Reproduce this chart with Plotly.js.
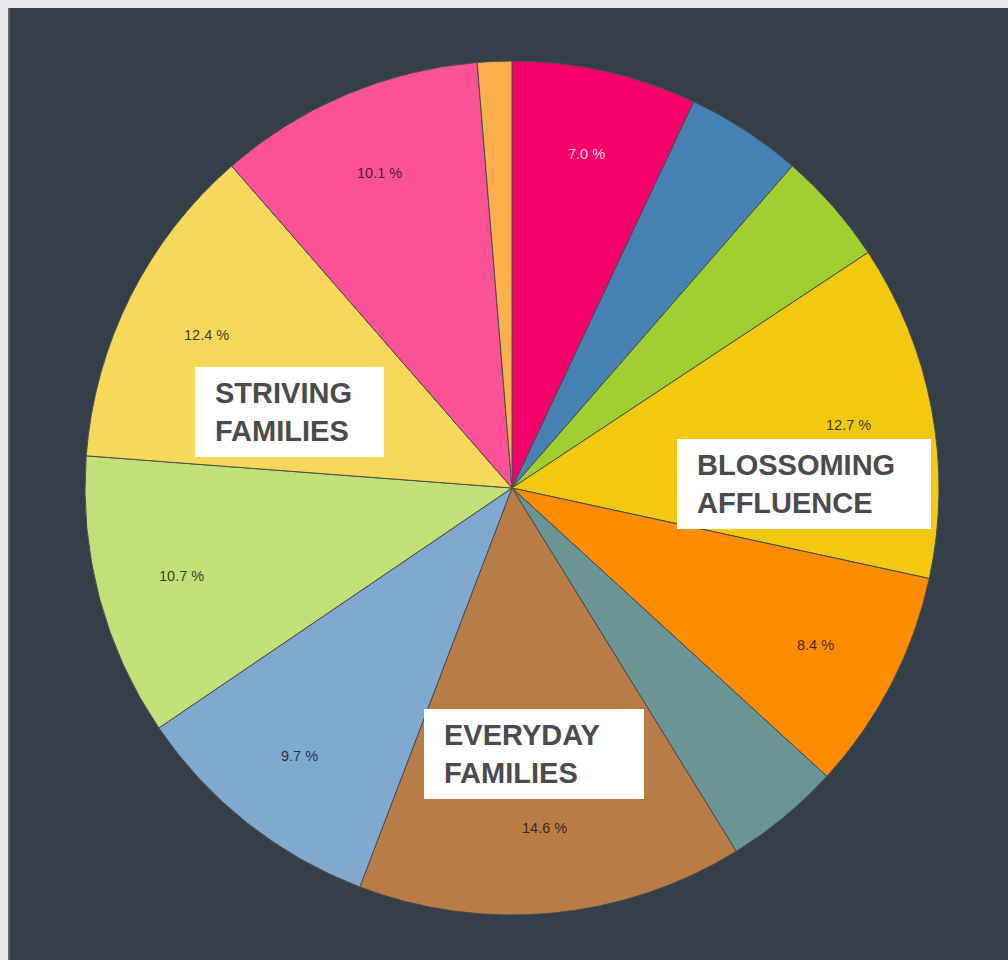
<!DOCTYPE html>
<html>
<head>
<meta charset="utf-8">
<script src="https://cdn.plot.ly/plotly-3.0.1.min.js"></script>
<style>
  html, body { margin: 0; padding: 0; background: #e9e9e9; width: 1008px; height: 960px; overflow: hidden; }
  #chart { position: absolute; left: 8px; top: 8px; width: 1000px; height: 952px; }
  #edge { position: absolute; left: 8px; top: 8px; width: 2px; height: 952px; background: #5a646e; z-index: 5; }
</style>
</head>
<body>
<div id="chart"></div>
<div id="edge"></div>
<script>
// ---- data (clockwise from 12 o'clock) ----
const categories = ["Segment 1", "Segment 2", "Segment 3", "Blossoming Affluence", "Segment 5", "Segment 6",
                    "Everyday Families", "Segment 8", "Segment 9", "Striving Families", "Segment 11", "Segment 12"];
const values = [7.0, 4.4, 4.3, 12.7, 8.4, 4.4, 14.6, 9.7, 10.7, 12.4, 10.1, 1.3];
const sliceLabels = ["7.0 %", "", "", "12.7 %", "8.4 %", "", "14.6 %", "9.7 %", "10.7 %", "12.4 %", "10.1 %", ""];
const groupLabels = ["STRIVING<br>FAMILIES", "BLOSSOMING<br>AFFLUENCE", "EVERYDAY<br>FAMILIES"];

// ---- styles ----
const colors = ["#f8006b", "#4682b4", "#a0cf30", "#f3c90f", "#ff8c00", "#6a9595",
                "#ba7c45", "#80a9d2", "#c1e077", "#f8d858", "#fd5198", "#fbb04d"];
const lightText = "rgba(255,235,242,0.9)";
const darkText = "rgba(15,15,20,0.8)";

// page-pixel helpers (chart div starts at page 8,8 and is 1000x952)
const W = 1000, H = 952, OX = 8, OY = 8;
const px = x => (x - OX) / W;
const py = y => 1 - (y - OY) / H;

const cx = 512, cy = 488, R = 427;
const labelR = 342;

const trace = {
  type: "pie",
  labels: categories,
  values: values,
  textinfo: "none",
  sort: false,
  direction: "clockwise",
  rotation: 0,
  hoverinfo: "label+percent",
  marker: { colors: colors, line: { color: "#4a4d50", width: 1 } },
  domain: { x: [px(cx - R), px(cx + R)], y: [py(cy + R), py(cy - R)] }
};

// percentage labels placed at the mid-angle of each slice (derived from values)
const total = values.reduce((a, b) => a + b, 0);
let cum = 0;
const pctAnnotations = [];
values.forEach((v, i) => {
  const mid = (cum + v / 2) / total * 2 * Math.PI;
  cum += v;
  if (!sliceLabels[i]) return;
  pctAnnotations.push({
    xref: "paper", yref: "paper",
    x: px(cx + labelR * Math.sin(mid)), y: py(cy - labelR * Math.cos(mid)),
    xanchor: "center", yanchor: "middle",
    text: sliceLabels[i], showarrow: false,
    font: { family: "Liberation Sans, Arial, sans-serif", size: 14.5, color: i === 0 ? lightText : darkText }
  });
});

// white boxes (page pixel coords)
const boxes = [
  { x0: 195, x1: 384, y0: 367, y1: 457 },
  { x0: 677, x1: 931, y0: 439, y1: 529 },
  { x0: 424, x1: 644, y0: 709, y1: 799 }
];

const shapes = boxes.map(b => ({
  type: "rect", xref: "paper", yref: "paper",
  x0: px(b.x0), x1: px(b.x1), y0: py(b.y1), y1: py(b.y0),
  fillcolor: "#ffffff", line: { width: 0 }, layer: "above"
}));

const boxAnnotations = boxes.map((b, i) => ({
  xref: "paper", yref: "paper",
  x: px(b.x0 + 18), y: py((b.y0 + b.y1) / 2),
  xanchor: "left", yanchor: "middle", align: "left",
  text: groupLabels[i], showarrow: false,
  font: { family: "Liberation Sans, Arial, sans-serif", size: 29, color: "#4b4b4e", weight: "bold" }
}));

const layout = {
  width: W, height: H,
  margin: { l: 0, r: 0, t: 0, b: 0 },
  paper_bgcolor: "#353f4a",
  plot_bgcolor: "#353f4a",
  showlegend: false,
  shapes: shapes,
  annotations: pctAnnotations.concat(boxAnnotations)
};

Plotly.newPlot("chart", [trace], layout, { displayModeBar: false, staticPlot: true });
</script>
</body>
</html>
